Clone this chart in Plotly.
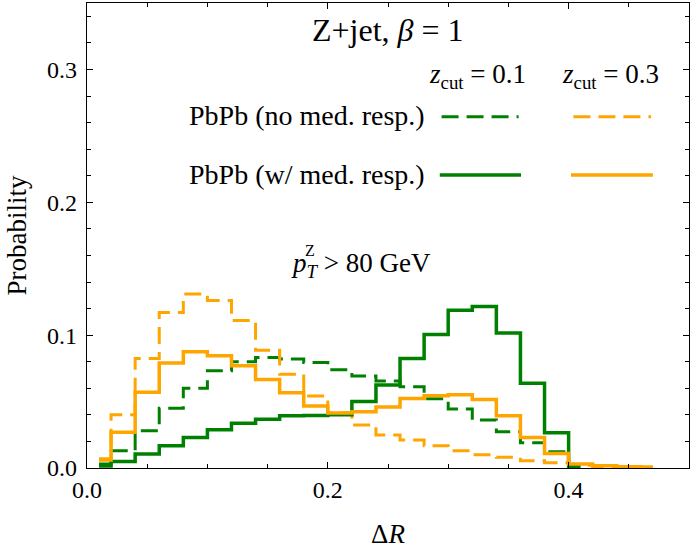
import plotly.graph_objects as go

# Delta R bin centres (bin width 0.02), drawn as mid-steps
dr_centres = [0.01, 0.03, 0.05, 0.07, 0.09, 0.11, 0.13, 0.15, 0.17, 0.19, 0.21, 0.23,
              0.25, 0.27, 0.29, 0.31, 0.33, 0.35, 0.37, 0.39, 0.41, 0.43, 0.45, 0.47]

# z_cut = 0.1
zc01_no_resp = [0.003, 0.013, 0.028, 0.045, 0.060, 0.0732, 0.080, 0.0832, 0.082, 0.0795,
                0.074, 0.0693, 0.0654, 0.0611, 0.0521, 0.0444, 0.0361, 0.0273, 0.019,
                0.0123, 0.001]
zc01_w_resp = [0.0015, 0.0048, 0.0105, 0.0168, 0.023, 0.0288, 0.0336, 0.0366, 0.0393,
               0.0395, 0.040, 0.050, 0.0624, 0.0825, 0.1005, 0.1188, 0.1216, 0.1017,
               0.0637, 0.0266, 0.001]

# z_cut = 0.3
zc03_no_resp = [0.007, 0.040, 0.0825, 0.117, 0.131, 0.126, 0.111, 0.0887, 0.0705, 0.0541,
                0.0415, 0.0323, 0.0248, 0.021, 0.0168, 0.013, 0.010, 0.008, 0.0055, 0.004,
                0.002, 0.001, 0.0006, 0.0004]
zc03_w_resp = [0.006, 0.027, 0.057, 0.079, 0.0875, 0.0845, 0.077, 0.0667, 0.0566, 0.0466,
               0.0414, 0.0423, 0.046, 0.0524, 0.0544, 0.0551, 0.0516, 0.0393, 0.023, 0.011,
               0.003, 0.0017, 0.001, 0.0008]

GREEN = 'green'
ORANGE = 'orange'
DASH = '17px,8px'
FONT = 'Liberation Serif'

fig = go.Figure()
series = [
    (zc01_no_resp, GREEN, DASH, 3.0),
    (zc03_no_resp, ORANGE, DASH, 3.0),
    (zc01_w_resp, GREEN, 'solid', 3.5),
    (zc03_w_resp, ORANGE, 'solid', 3.5),
]
for vals, col, dash, lw in series:
    fig.add_trace(go.Scatter(
        x=dr_centres[:len(vals)], y=vals, mode='lines',
        line=dict(color=col, width=lw, dash=dash, shape='hvh'),
        hoverinfo='skip'
    ))

axis_common = dict(
    showgrid=False, zeroline=False, showline=True, linecolor='black', linewidth=1.3,
    mirror='ticks', ticks='inside', ticklen=6, tickwidth=1, tickcolor='black',
    tickfont=dict(family=FONT, size=24, color='black'),
    automargin=False,
)
fig.update_xaxes(range=[0, 0.5], dtick=0.2, tickformat='.1f', ticklabelstandoff=0,
                 minor=dict(dtick=0.05, ticks='inside', ticklen=3.5, tickcolor='black'),
                 title=dict(text='Δ<i>R</i>', font=dict(family=FONT, size=27, color='black'),
                            standoff=22),
                 **axis_common)
fig.update_yaxes(range=[0, 0.35], dtick=0.1, tickformat='.1f', ticklabelstandoff=4,
                 minor=dict(dtick=0.02, ticks='inside', ticklen=3.5, tickcolor='black'),
                 title=dict(text='Probability', font=dict(family=FONT, size=27, color='black'),
                            standoff=12),
                 **axis_common)

# custom two-column legend
def txt(x, y, s, size=26, xanchor='center'):
    fig.add_annotation(x=x, y=y, xref='paper', yref='paper', text=s, showarrow=False,
                       xanchor=xanchor, yanchor='middle',
                       font=dict(family=FONT, size=size, color='black'))

txt(0.50, 0.942, 'Z+jet, <i>β</i> = 1', size=32)
txt(0.649, 0.842, '<i>z</i><sub>cut</sub> = 0.1', size=27)
txt(0.869, 0.842, '<i>z</i><sub>cut</sub> = 0.3', size=27)
txt(0.564, 0.757, 'PbPb (no med. resp.)', size=28, xanchor='right')
txt(0.564, 0.632, 'PbPb (w/ med. resp.)', size=28, xanchor='right')
txt(0.455, 0.437, '<i>p</i><sub><i>T</i></sub> > 80 GeV', size=27)
txt(0.371, 0.468, 'Z', size=16)

legend_lines = [
    (0.589, 0.717, 0.7555, GREEN, DASH, 3.0),
    (0.808, 0.937, 0.7555, ORANGE, DASH, 3.0),
    (0.586, 0.721, 0.630, GREEN, 'solid', 3.5),
    (0.804, 0.940, 0.630, ORANGE, 'solid', 3.5),
]
for x0, x1, y, col, dash, lw in legend_lines:
    fig.add_shape(type='line', xref='paper', yref='paper', x0=x0, x1=x1, y0=y, y1=y,
                  line=dict(color=col, width=lw, dash=dash))

fig.update_layout(
    width=700, height=550,
    margin=dict(l=87, r=11, t=3, b=82),
    plot_bgcolor='white', paper_bgcolor='white',
    showlegend=False,
    font=dict(family=FONT, color='black'),
)

fig.write_html('out.html', config={'displayModeBar': False},
               post_script="document.body.style.margin='0';")
